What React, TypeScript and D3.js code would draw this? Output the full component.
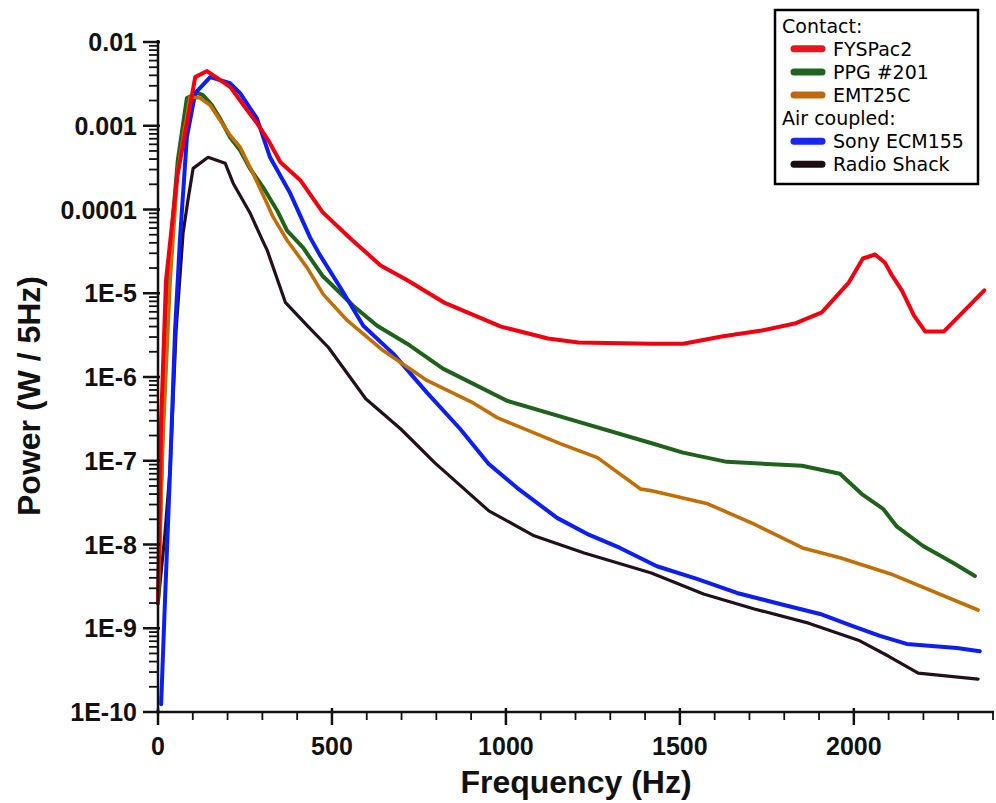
import React from "react";
import * as d3 from "d3";

// ---- Data (frequency in Hz, power in W / 5Hz) ----
const fysFreq = [0, 9, 23, 55, 107, 141, 208, 256, 285, 317, 352, 409, 473, 553, 640, 718, 821, 986, 1121, 1208, 1418, 1510, 1620, 1735, 1830, 1908, 1986, 2026, 2061, 2089, 2110, 2138, 2173, 2205, 2259, 2375];
const fysPower = [2.1e-9, 3.0e-7, 1.42e-5, 2.43e-4, 3.81e-3, 4.5e-3, 2.9e-3, 1.54e-3, 1.07e-3, 6.7e-4, 3.67e-4, 2.24e-4, 9.3e-5, 4.5e-5, 2.15e-5, 1.42e-5, 7.8e-6, 4.0e-6, 2.88e-6, 2.58e-6, 2.5e-6, 2.5e-6, 3.04e-6, 3.59e-6, 4.35e-6, 5.9e-6, 1.35e-5, 2.6e-5, 2.9e-5, 2.33e-5, 1.63e-5, 1.08e-5, 5.4e-6, 3.5e-6, 3.5e-6, 1.08e-5];

const ppgFreq = [0, 14, 35, 57, 83, 115, 129, 155, 178, 207, 236, 264, 302, 342, 371, 417, 472, 561, 630, 716, 819, 1003, 1175, 1414, 1509, 1635, 1851, 1960, 2023, 2084, 2124, 2199, 2286, 2348];
const ppgPower = [2e-9, 3e-7, 3.25e-5, 3.9e-4, 2.14e-3, 2.45e-3, 2.32e-3, 1.76e-3, 1.23e-3, 7.3e-4, 5.1e-4, 3.1e-4, 1.84e-4, 9.8e-5, 5.6e-5, 3.5e-5, 1.63e-5, 7.1e-6, 4.1e-6, 2.5e-6, 1.26e-6, 5.2e-7, 3.2e-7, 1.64e-7, 1.25e-7, 9.7e-8, 8.7e-8, 7.0e-8, 4.0e-8, 2.67e-8, 1.63e-8, 9.6e-9, 6.0e-9, 4.2e-9];

const emtFreq = [0, 14, 35, 57, 92, 121, 150, 178, 207, 236, 273, 313, 331, 371, 428, 475, 544, 647, 773, 906, 975, 1156, 1263, 1387, 1416, 1580, 1712, 1853, 1963, 2106, 2357];
const emtPower = [2e-9, 1.73e-7, 1.42e-5, 2.95e-4, 2.2e-3, 2.14e-3, 1.76e-3, 1.17e-3, 7.7e-4, 5.55e-4, 2.71e-4, 1.19e-4, 8.1e-5, 4.3e-5, 2.04e-5, 9.7e-6, 4.73e-6, 2.07e-6, 9.1e-7, 4.9e-7, 3.27e-7, 1.6e-7, 1.09e-7, 4.6e-8, 4.4e-8, 3.06e-8, 1.76e-8, 9.1e-9, 6.9e-9, 4.45e-9, 1.65e-9];

const sonyFreq = [9, 20, 35, 49, 63, 83, 107, 150, 207, 236, 284, 322, 380, 437, 466, 524, 590, 676, 773, 868, 950, 1032, 1147, 1233, 1328, 1434, 1549, 1664, 1788, 1903, 1997, 2075, 2152, 2296, 2362];
const sonyPower = [1.24e-10, 2.1e-9, 8.2e-8, 3.6e-6, 4.3e-5, 7.3e-4, 2.45e-3, 3.81e-3, 3.23e-3, 2.45e-3, 1.23e-3, 4.2e-4, 1.56e-4, 4.65e-5, 2.83e-5, 1.17e-5, 4.1e-6, 1.9e-6, 6.5e-7, 2.41e-7, 9.2e-8, 4.75e-8, 2.08e-8, 1.34e-8, 9.1e-9, 5.5e-9, 3.88e-9, 2.64e-9, 1.95e-9, 1.48e-9, 1.06e-9, 8.1e-10, 6.5e-10, 5.8e-10, 5.3e-10];

const radioFreq = [0, 20, 35, 52, 72, 86, 101, 144, 193, 216, 265, 300, 314, 366, 429, 490, 597, 697, 795, 951, 1081, 1225, 1418, 1568, 1714, 1870, 2013, 2099, 2185, 2357];
const radioPower = [1.95e-9, 1.34e-8, 8.2e-8, 3.6e-6, 5.2e-5, 1.29e-4, 3.1e-4, 4.2e-4, 3.57e-4, 2.06e-4, 9.0e-5, 4.3e-5, 3.25e-5, 7.8e-6, 4.1e-6, 2.25e-6, 5.5e-7, 2.41e-7, 9.5e-8, 2.52e-8, 1.27e-8, 7.9e-9, 4.57e-9, 2.56e-9, 1.7e-9, 1.15e-9, 7.2e-10, 4.66e-10, 2.91e-10, 2.47e-10];

const yTickValues = [1e-2, 1e-3, 1e-4, 1e-5, 1e-6, 1e-7, 1e-8, 1e-9, 1e-10];
const yTickLabels = ["0.01", "0.001", "0.0001", "1E-5", "1E-6", "1E-7", "1E-8", "1E-9", "1E-10"];
const xTickValues = [0, 500, 1000, 1500, 2000];
const xTickLabels = ["0", "500", "1000", "1500", "2000"];

const series = [
  { name: "Radio Shack", freq: radioFreq, power: radioPower, color: "#22101c", width: 3.2, legend: "#1a0e10" },
  { name: "PPG #201", freq: ppgFreq, power: ppgPower, color: "#1f621b", width: 4, legend: "#1e6420" },
  { name: "Sony ECM155", freq: sonyFreq, power: sonyPower, color: "#0c1ef2", width: 4, legend: "#1428f0" },
  { name: "EMT25C", freq: emtFreq, power: emtPower, color: "#c26e06", width: 3.6, legend: "#c0680a" },
  { name: "FYSPac2", freq: fysFreq, power: fysPower, color: "#f0000e", width: 4, legend: "#e8141e" },
];

const legendRows: { label: string; key?: string }[] = [
  { label: "Contact:" },
  { label: "FYSPac2", key: "FYSPac2" },
  { label: "PPG #201", key: "PPG #201" },
  { label: "EMT25C", key: "EMT25C" },
  { label: "Air coupled:" },
  { label: "Sony ECM155", key: "Sony ECM155" },
  { label: "Radio Shack", key: "Radio Shack" },
];

export default function App() {
  const W = 996, H = 803;
  const x = d3.scaleLinear().domain([0, 2400]).range([158, 993]);
  const y = d3.scaleLog().domain([1e-10, 1e-2]).range([712, 42]);

  const line = d3
    .line<[number, number]>()
    .x((d) => x(d[0]))
    .y((d) => y(d[1]));

  const minorY: number[] = [];
  for (let e = -10; e < -2; e++) {
    for (let m = 2; m <= 9; m++) minorY.push(m * Math.pow(10, e));
  }
  const minorX = d3.range(100, 2401, 100).filter((v) => v % 500 !== 0);

  const font = "'Liberation Sans', Arial, Helvetica, sans-serif";
  const legendFont = "'DejaVu Sans', Verdana, sans-serif";

  return (
    <svg width={W} height={H} style={{ position: "absolute", left: 0, top: 0, background: "#fff" }}>
      <rect x={0} y={0} width={W} height={H} fill="#fff" />
      {/* data lines */}
      <g fill="none" strokeLinejoin="round" strokeLinecap="round">
        {series.map((s) => (
          <path
            key={s.name}
            d={line(s.freq.map((f, i) => [f, s.power[i]] as [number, number])) || ""}
            stroke={s.color}
            strokeWidth={s.width}
          />
        ))}
      </g>

      {/* y axis */}
      <g stroke="#111">
        <line x1={158} x2={158} y1={40} y2={713} strokeWidth={2.5} />
        {minorY.map((v, i) => (
          <line key={"my" + i} x1={149} x2={158} y1={y(v)} y2={y(v)} strokeWidth={1.8} />
        ))}
        {yTickValues.map((v, i) => (
          <line key={"My" + i} x1={143} x2={160} y1={y(v)} y2={y(v)} strokeWidth={2.5} />
        ))}
      </g>
      <g fontFamily={font} fontSize={25} fontWeight="bold" fill="#111" textAnchor="end">
        {yTickValues.map((v, i) => (
          <text key={"yl" + i} x={137} y={y(v)} dy="0.36em">
            {yTickLabels[i]}
          </text>
        ))}
      </g>

      {/* x axis */}
      <g stroke="#111">
        <line x1={156} x2={994} y1={712} y2={712} strokeWidth={2.5} />
        {minorX.map((v, i) => (
          <line key={"mx" + i} x1={x(v)} x2={x(v)} y1={712} y2={720} strokeWidth={1.8} />
        ))}
        {xTickValues.map((v, i) => (
          <line key={"Mx" + i} x1={x(v)} x2={x(v)} y1={708} y2={725} strokeWidth={2.5} />
        ))}
      </g>
      <g fontFamily={font} fontSize={25} fontWeight="bold" fill="#111" textAnchor="middle">
        {xTickValues.map((v, i) => (
          <text key={"xl" + i} x={x(v)} y={755}>
            {xTickLabels[i]}
          </text>
        ))}
      </g>

      {/* axis titles */}
      <text x={576} y={793} fontFamily={font} fontSize={32} fontWeight="bold" fill="#111" textAnchor="middle">
        Frequency (Hz)
      </text>
      <text
        transform="translate(40,396) rotate(-90)"
        fontFamily={font}
        fontSize={32}
        fontWeight="bold"
        fill="#111"
        textAnchor="middle"
      >
        Power (W / 5Hz)
      </text>

      {/* legend */}
      <g>
        <rect x={775} y={10} width={203} height={174} fill="#fff" stroke="#000" strokeWidth={2.5} />
        {legendRows.map((r, i) => {
          const cy = 25.7 + i * 23.1;
          const s = series.find((q) => q.name === r.key);
          return (
            <g key={"lg" + i}>
              {s ? (
                <line x1={794} x2={822} y1={cy} y2={cy} stroke={s.legend} strokeWidth={7} strokeLinecap="round" />
              ) : null}
              <text x={s ? 833 : 782} y={cy} dy="0.36em" fontFamily={legendFont} fontSize={19} fill="#000">
                {r.label}
              </text>
            </g>
          );
        })}
      </g>
    </svg>
  );
}
